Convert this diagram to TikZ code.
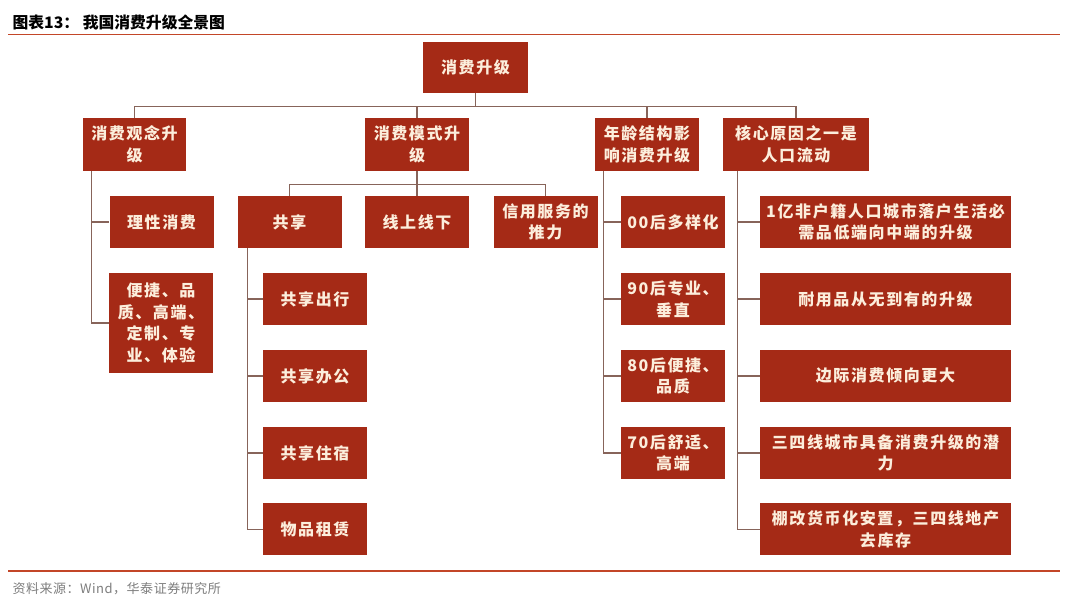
\documentclass[tikz,border=0pt]{standalone}
\usepackage{fontspec}
\setmainfont{Noto Sans CJK SC}
\newfontfamily\boxfont[LetterSpace=10]{Noto Sans CJK SC}
\newfontfamily\notefont[LetterSpace=4]{Noto Sans CJK SC}
\usepackage{tikz}
\usetikzlibrary{positioning}
\definecolor{boxred}{RGB}{165,42,22}
\definecolor{boxtext}{RGB}{252,238,220}
\definecolor{linkgray}{RGB}{135,100,90}
\definecolor{rulered}{RGB}{195,70,40}
\definecolor{notegray}{RGB}{125,125,125}
\tikzstyle{item} = [rectangle, minimum width=104pt, minimum height=52pt, inner sep=0pt, text centered, align=center, fill=boxred, text=boxtext, font=\boxfont\bfseries\fontsize{16}{21.5}\selectfont]
\tikzstyle{head} = [item, minimum height=53pt]
\tikzstyle{wide} = [item, minimum width=251pt]
\tikzstyle{link} = [draw=linkgray, line width=1.3pt]
\tikzstyle{rule} = [draw=rulered, line width=1.5pt]

\begin{document}
\begin{tikzpicture}[x=1pt, y=-1pt]
		\useasboundingbox (0,0) rectangle (1080,609);
		\node (title) [anchor=west, font=\bfseries\fontsize{15.8}{17}\selectfont] at (9,22) {图表13： 我国消费升级全景图};
		\coordinate (topl) at (8,34.5);
		\coordinate (topr) at (1060,34.5);
		\coordinate (botl) at (8,571);
		\coordinate (botr) at (1060,571);
		\draw [rule](topl) -- (topr);
		\draw [rule](botl) -- (botr);
		\node (source) [anchor=west, text=notegray, font=\notefont\fontsize{13}{15}\selectfont] at (9,589) {资料来源：Wind，华泰证券研究所};

		\node (root) [item, minimum width=105pt, minimum height=51pt] at (475.5,67.5) {消费升级};
		\node (guannian) [head, minimum width=103pt] at (134.5,144.5) {消费观念升\\级};
		\node (moshi) [head] at (417,144.5) {消费模式升\\级};
		\node (nianling) [head] at (647,144.5) {年龄结构影\\响消费升级};
		\node (hexin) [head, minimum width=146pt] at (796,144.5) {核心原因之一是\\人口流动};

		\node (lixing) [item] at (161.5,222) {理性消费};
		\node (bianjie) [item, minimum height=100pt] at (161,323) {便捷、品\\质、高端、\\定制、专\\业、体验};
		\node (gongxiang) [item] at (289.5,222) {共享};
		\node (xianshang) [item] at (417,222) {线上线下};
		\node (xinyong) [item] at (545.5,222) {信用服务的\\推力};
		\node (gxcx) [item] at (315,299) {共享出行};
		\node (gxbg) [item] at (315,376) {共享办公};
		\node (gxzs) [item] at (315,453) {共享住宿};
		\node (wpzl) [item] at (315,529.5) {物品租赁};
		\node (hou00) [item] at (673,222) {00后多样化};
		\node (hou90) [item] at (673,299) {90后专业、\\垂直};
		\node (hou80) [item] at (673,376) {80后便捷、\\品质};
		\node (hou70) [item] at (673,453) {70后舒适、\\高端};
		\node (renkou) [wide] at (885.5,222) {1亿非户籍人口城市落户生活必\\需品低端向中端的升级};
		\node (naiyong) [wide] at (885.5,299) {耐用品从无到有的升级};
		\node (bianji) [wide] at (885.5,376) {边际消费倾向更大};
		\node (sansi) [wide] at (885.5,453) {三四线城市具备消费升级的潜\\力};
		\node (penggai) [wide] at (885.5,529.5) {棚改货币化安置，三四线地产\\去库存};

		\draw [link](root.south) -- ++(0,13) -| (guannian.north);
		\draw [link](root.south) -- ++(0,13) -| (moshi.north);
		\draw [link](root.south) -- ++(0,13) -| (nianling.north);
		\draw [link](root.south) -- ++(0,13) -| (hexin.north);
		\draw [link](moshi.south) -- ++(0,13) -| (gongxiang.north);
		\draw [link](moshi.south) -- ++(0,13) -| (xianshang.north);
		\draw [link](moshi.south) -- ++(0,13) -| (xinyong.north);

		\draw [link]([xshift=9pt]guannian.south west) |- (lixing.west);
		\draw [link]([xshift=9pt]guannian.south west) |- (bianjie.west);
		\draw [link]([xshift=10pt]gongxiang.south west) |- (gxcx.west);
		\draw [link]([xshift=10pt]gongxiang.south west) |- (gxbg.west);
		\draw [link]([xshift=10pt]gongxiang.south west) |- (gxzs.west);
		\draw [link]([xshift=10pt]gongxiang.south west) |- (wpzl.west);
		\draw [link]([xshift=9pt]nianling.south west) |- (hou00.west);
		\draw [link]([xshift=9pt]nianling.south west) |- (hou90.west);
		\draw [link]([xshift=9pt]nianling.south west) |- (hou80.west);
		\draw [link]([xshift=9pt]nianling.south west) |- (hou70.west);
		\draw [link]([xshift=14.5pt]hexin.south west) |- (renkou.west);
		\draw [link]([xshift=14.5pt]hexin.south west) |- (naiyong.west);
		\draw [link]([xshift=14.5pt]hexin.south west) |- (bianji.west);
		\draw [link]([xshift=14.5pt]hexin.south west) |- (sansi.west);
		\draw [link]([xshift=14.5pt]hexin.south west) |- (penggai.west);
	\end{tikzpicture}
\end{document}
